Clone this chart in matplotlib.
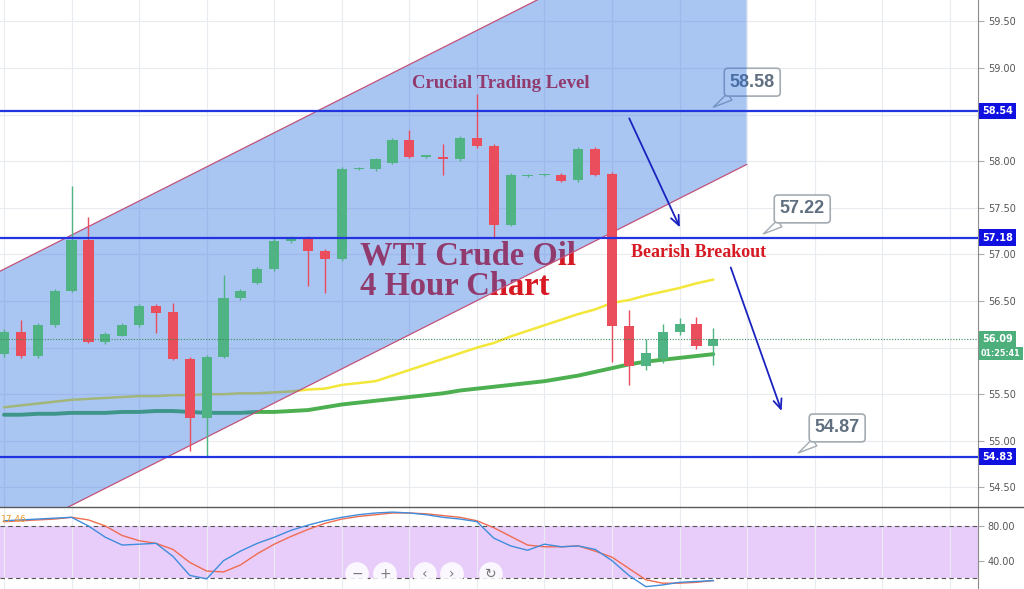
import matplotlib
matplotlib.use("Agg")
import matplotlib.pyplot as plt
from matplotlib.lines import Line2D
from matplotlib.transforms import blended_transform_factory
import numpy as np

# ---------------- data (4-hour WTI candles, oldest first) ----------------
opens = [55.93, 56.17, 55.91, 56.24, 56.61, 57.16, 56.06, 56.13, 56.24, 56.45,
         56.38, 55.88, 55.24, 55.90, 56.53, 56.69, 56.84, 57.14, 57.18, 57.04,
         56.95, 57.92, 57.92, 57.98, 58.23, 58.05, 58.05, 58.02, 58.25, 58.16,
         57.32, 57.84, 57.85, 57.85, 57.80, 58.13, 57.86, 56.23, 55.80, 55.88,
         56.17, 56.25, 56.02]
highs = [56.20, 56.30, 56.26, 56.63, 57.73, 57.40, 56.17, 56.26, 56.47, 56.47,
         56.48, 55.90, 55.92, 56.78, 56.63, 56.86, 57.19, 57.20, 57.20, 57.06,
         57.94, 57.94, 58.04, 58.25, 58.34, 58.06, 58.19, 58.27, 58.72, 58.18,
         57.87, 57.86, 57.86, 57.87, 58.15, 58.15, 57.88, 56.40, 56.09, 56.25,
         56.32, 56.33, 56.21]
lows = [55.90, 55.89, 55.89, 56.22, 56.60, 56.05, 56.04, 56.12, 56.22, 56.16,
        55.87, 54.89, 54.84, 55.89, 56.51, 56.68, 56.82, 57.12, 56.66, 56.59,
        56.93, 57.91, 57.90, 57.97, 58.04, 58.04, 57.85, 58.00, 58.14, 57.19,
        57.30, 57.83, 57.84, 57.78, 57.78, 57.84, 55.85, 55.60, 55.76, 55.84,
        56.14, 55.99, 55.81]
closes = [56.17, 55.91, 56.24, 56.61, 57.16, 56.06, 56.15, 56.24, 56.45, 56.37,
          55.88, 55.24, 55.90, 56.53, 56.61, 56.84, 57.14, 57.18, 57.04, 56.95,
          57.92, 57.93, 58.02, 58.23, 58.05, 58.05, 58.02, 58.25, 58.16, 57.32,
          57.85, 57.85, 57.85, 57.79, 58.13, 57.85, 56.23, 55.80, 55.94, 56.17,
          56.25, 56.02, 56.09]

# moving averages
sma_fast = [55.36, 55.38, 55.40, 55.42, 55.44, 55.45, 55.46, 55.47, 55.48, 55.48,
            55.49, 55.49, 55.50, 55.50, 55.51, 55.51, 55.52, 55.53, 55.55, 55.56,
            55.60, 55.62, 55.64, 55.70, 55.76, 55.82, 55.88, 55.94, 56.00, 56.05,
            56.12, 56.18, 56.24, 56.30, 56.36, 56.41, 56.48, 56.51, 56.56, 56.60,
            56.64, 56.69, 56.73]
sma_slow = [55.28, 55.28, 55.29, 55.29, 55.30, 55.30, 55.30, 55.31, 55.31, 55.32,
            55.32, 55.31, 55.30, 55.30, 55.30, 55.31, 55.31, 55.32, 55.33, 55.36,
            55.39, 55.41, 55.43, 55.45, 55.47, 55.49, 55.51, 55.54, 55.56, 55.58,
            55.60, 55.62, 55.64, 55.67, 55.70, 55.74, 55.78, 55.82, 55.85, 55.87,
            55.89, 55.91, 55.93]

# stochastic oscillator
stoch_k = [86, 87, 88, 89, 90, 80, 67, 58, 59, 60, 45, 23, 19, 40, 51, 60, 67, 75,
           81, 86, 90, 93, 95, 96, 95, 93, 90, 88, 85, 66, 57, 52, 59, 56, 57, 53,
           40, 23, 10, 12, 15, 16, 17]
stoch_d = [85, 86, 87, 88, 90, 87, 80, 69, 63, 60, 53, 38, 28, 27, 35, 48, 59, 68,
           76, 83, 88, 91, 93, 95, 95, 94, 92, 90, 86, 78, 68, 58, 56, 56, 57, 51,
           44, 31, 18, 14, 14, 15, 17]
stoch_label = "17.46"

# key horizontal levels and callouts
levels = [58.54, 57.18, 54.83]
last_price = 56.09
countdown = "01:25:41"
callout_values = [58.58, 57.22, 54.87]
callout_bars = [42.0, 44.96, 47.03]
price_ticks = [54.5, 55.0, 55.5, 56.0, 56.5, 57.0, 57.5, 58.0, 58.5, 59.0, 59.5]
stoch_ticks = [80, 40]

# ascending channel (lower line anchor, slope per bar, height)
chan_x0, chan_lower0, chan_slope, chan_height, chan_end = -0.237, 53.92, 0.0915, 2.9, 43.97

# ---------------- styling ----------------
UP = "#4fb383"
DOWN = "#ea4d5b"
LEVEL_BLUE = "#2233e0"
GRID = "#e8ebf0"
TEXT_RED = "#d71923"

W, H = 1024, 589
fig = plt.figure(figsize=(W / 100, H / 100), dpi=100)
fig.patch.set_facecolor("white")
panel_w = 978 / W
stoch_h = 82 / H
ax = fig.add_axes([0, stoch_h, panel_w, 1 - stoch_h])
axs = fig.add_axes([0, 0, panel_w, stoch_h])

n = len(opens)
idx = np.arange(n)
xlim = (-0.237, 57.67)

# ---------------- main price panel ----------------
ax.set_xlim(*xlim)
ax.set_ylim(54.29, 59.73)
for gx in range(0, 60, 4):
    ax.axvline(gx, color=GRID, lw=0.8, zorder=0)
for gy in price_ticks:
    ax.axhline(gy, color=GRID, lw=0.8, zorder=0)

# moving averages (beneath the channel shading)
ax.plot(idx, sma_fast, color="#f3e73a", lw=1.8, zorder=2, solid_capstyle="round")
ax.plot(idx, sma_slow, color="#4caf50", lw=2.8, zorder=2, solid_capstyle="round")

# chart titles (beneath the channel shading)
serif = "Liberation Serif"
ax.text(24.14, 58.79, "Crucial Trading Level", family=serif, weight="bold",
        fontsize=13.5, color=TEXT_RED, va="baseline", ha="left", zorder=1)
ax.text(21.08, 56.89, "WTI Crude Oil", family=serif, weight="bold",
        fontsize=23.5, color=TEXT_RED, va="baseline", ha="left", zorder=1)
ax.text(21.08, 56.57, "4 Hour Chart", family=serif, weight="bold",
        fontsize=23.5, color=TEXT_RED, va="baseline", ha="left", zorder=1)
ax.text(37.1, 56.97, "Bearish Breakout", family=serif, weight="bold",
        fontsize=13, color=TEXT_RED, va="baseline", ha="left", zorder=1)

# price callouts
for val, bar in zip(callout_values, callout_bars):
    ax.annotate(f"{val:.2f}", xy=(bar, val), xytext=(28, 18),
                textcoords="offset points", ha="center", va="center",
                fontsize=13, family="Liberation Sans", weight="bold", color="#5f6f80",
                bbox=dict(boxstyle="round,pad=0.3,rounding_size=0.2", fc="white",
                          ec="#a3abb3", lw=1.2),
                arrowprops=dict(arrowstyle="wedge,tail_width=0.45,shrink_factor=0.5",
                                fc="white", ec="#a3abb3", lw=1.0, shrinkA=0, shrinkB=0),
                zorder=2)

# ascending channel
cx = np.array([-2.0, chan_end])
lower = chan_lower0 + chan_slope * (cx - chan_x0)
upper = lower + chan_height
ax.fill_between(cx, lower, upper, color="#2a6ee0", alpha=0.4, lw=0, zorder=3)
ax.plot(cx, lower, color="#c2527a", lw=0.9, zorder=4)
ax.plot(cx, upper, color="#c2527a", lw=0.9, zorder=4)

# candles
o = np.array(opens); c = np.array(closes)
colors = [UP if cc >= oo else DOWN for oo, cc in zip(o, c)]
ax.vlines(idx, lows, highs, colors=colors, lw=1.0, zorder=5)
body_lo = np.minimum(o, c)
body_h = np.maximum(np.abs(c - o), 0.012)
ax.bar(idx, body_h, bottom=body_lo, width=0.6, color=colors, lw=0, zorder=5)

# horizontal key levels and last price
for lvl in levels:
    ax.axhline(lvl, color=LEVEL_BLUE, lw=1.6, zorder=6)
ax.axhline(last_price, color="#3c8a5c", lw=0.8, ls=(0, (1, 1.5)), zorder=6)

# direction arrows
arrow_kw = dict(arrowstyle="->,head_length=0.7,head_width=0.3", color="#1a22c0",
                lw=1.3, shrinkA=0, shrinkB=0)
ax.annotate("", xy=(40.02, 57.29), xytext=(37.02, 58.46), arrowprops=arrow_kw, zorder=7)
ax.annotate("", xy=(46.04, 55.32), xytext=(43.03, 56.86), arrowprops=arrow_kw, zorder=7)

# right price scale
ax.yaxis.tick_right()
ax.set_yticks(price_ticks)
boxed = levels + [last_price, last_price - 0.09]
ax.set_yticklabels(["" if any(abs(t - b) < 0.1 for b in boxed) else f"{t:.2f}"
                    for t in price_ticks])
ax.tick_params(axis="y", length=4, color="#aaaaaa", labelsize=7, labelcolor="#555555", pad=3)
ax.set_xticks([])
for side in ("top", "left", "bottom"):
    ax.spines[side].set_visible(False)
ax.spines["right"].set_color("#8c8c8c")

tr = blended_transform_factory(ax.transAxes, ax.transData)
for lvl in levels:
    ax.text(1.004, lvl, f"{lvl:.2f}", transform=tr, ha="left", va="center", fontsize=7,
            weight="bold", color="white", clip_on=False, zorder=10,
            bbox=dict(boxstyle="square,pad=0.35", fc="#1010e0", ec="none"))
ax.text(1.004, last_price, f"{last_price:.2f}", transform=tr, ha="left", va="center",
        fontsize=7, weight="bold", color="white", clip_on=False, zorder=10,
        bbox=dict(boxstyle="square,pad=0.35", fc="#4caf7c", ec="none"))
ax.text(1.003, last_price - 0.155, countdown, transform=tr, ha="left", va="center",
        fontsize=5.8, weight="bold", color="white", clip_on=False, zorder=10,
        bbox=dict(boxstyle="square,pad=0.25", fc="#4caf7c", ec="none"))

# ---------------- stochastic panel ----------------
axs.set_xlim(*xlim)
axs.set_ylim(7.3, 101.9)
axs.axhspan(20, 80, color="#e8cdfa", lw=0, zorder=0)
for gx in range(0, 60, 4):
    axs.axvline(gx, color=GRID, lw=0.8, zorder=0.5)
axs.axhline(80, color="#555555", lw=0.8, ls=(0, (4, 3)), zorder=1)
axs.axhline(20, color="#555555", lw=0.8, ls=(0, (4, 3)), zorder=1)
axs.plot(idx, stoch_d, color="#f06c50", lw=1.0, zorder=2)
axs.plot(idx, stoch_k, color="#3f8ddc", lw=1.0, zorder=3)
axs.yaxis.tick_right()
axs.set_yticks(stoch_ticks)
axs.set_yticklabels([f"{t:.2f}" for t in stoch_ticks])
axs.tick_params(axis="y", length=4, color="#aaaaaa", labelsize=7, labelcolor="#555555", pad=3)
axs.set_xticks([])
for side in ("top", "left", "bottom"):
    axs.spines[side].set_visible(False)
axs.spines["right"].set_color("#8c8c8c")
axs.text(0.001, 87, stoch_label, transform=blended_transform_factory(axs.transAxes, axs.transData),
         ha="left", va="center", fontsize=6.5, color="#f09a30", clip_on=False)

# navigation buttons
for px, sym in zip([357, 385, 425, 452, 491], ["−", "+", "‹", "›", "↻"]):
    fig.text(px / W, 1 - 574 / H, sym, ha="center", va="center", fontsize=10,
             color="#7a7a7a",
             bbox=dict(boxstyle="circle,pad=0.35", fc="white", ec="none", alpha=0.85))

# panel separator
fig.add_artist(Line2D([0, 1], [stoch_h, stoch_h], color="#5a5a5a", lw=1.0))

fig.savefig("out.png", dpi=100, facecolor="white")
